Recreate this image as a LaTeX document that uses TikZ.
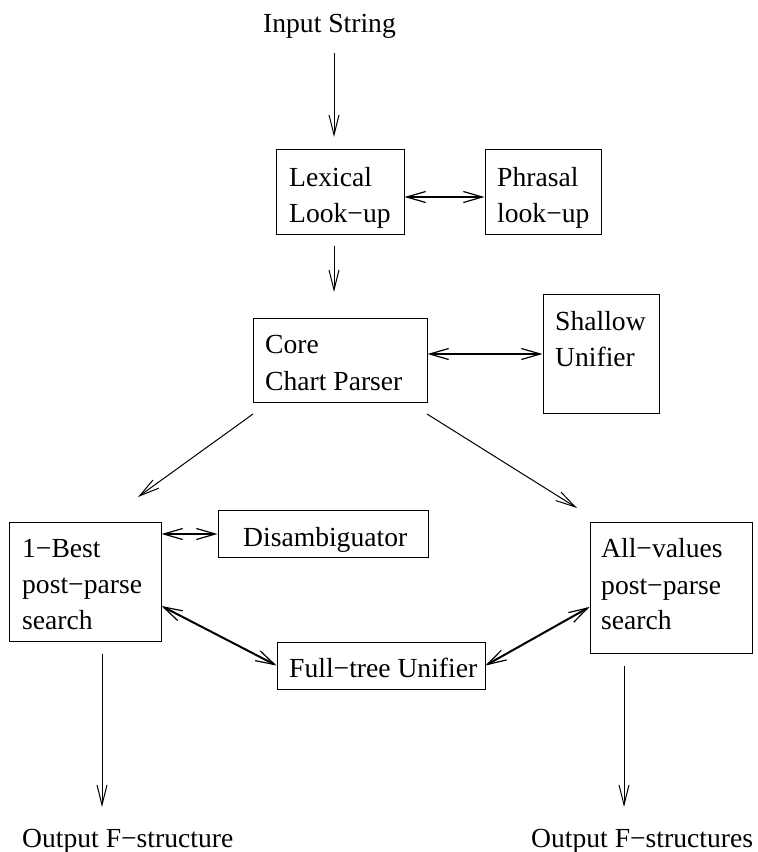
\documentclass[tikz,border=0pt]{standalone}
\usepackage{fontspec}
\setmainfont{Liberation Serif}
\usetikzlibrary{arrows.meta}
\begin{document}
\begin{tikzpicture}[x=1pt,y=-1pt,
  box/.style={draw, line width=1pt, rectangle, inner sep=0pt},
  txt/.style={anchor=base west, inner sep=0pt, font=\fontsize{27.6}{33}\selectfont},
  thin arrow/.style={line width=1pt, -{Straight Barb[length=20pt,width=10pt]}},
  both arrow/.style={line width=2pt, {Straight Barb[length=19pt,width=11pt,line width=1.2pt]}-{Straight Barb[length=19pt,width=11pt,line width=1.2pt]}}]
\useasboundingbox (0,0) rectangle (758,852);
% boxes
\node[box, minimum width=128pt, minimum height=85pt] (lex) at (340,191.5) {};
\node[box, minimum width=116pt, minimum height=85pt] (phr) at (543,191.5) {};
\node[box, minimum width=174pt, minimum height=84pt] (core) at (340,360) {};
\node[box, minimum width=116pt, minimum height=119pt] (shal) at (601,353.5) {};
\node[box, minimum width=210pt, minimum height=47pt] (dis) at (323,533.5) {};
\node[box, minimum width=152pt, minimum height=119pt] (best) at (85,581.5) {};
\node[box, minimum width=162pt, minimum height=131pt] (all) at (671,587.5) {};
\node[box, minimum width=208pt, minimum height=47pt] (full) at (381,665.5) {};
% texts
\node[txt] (input) at (263,32) {Input String};
\node[txt] (lex1) at (289,186) {Lexical};
\node[txt] (lex2) at (289,222) {Look−up};
\node[txt] (phr1) at (497,186) {Phrasal};
\node[txt] (phr2) at (497,222) {look−up};
\node[txt] (core1) at (265,353) {Core};
\node[txt] (core2) at (265,390) {Chart Parser};
\node[txt] (shal1) at (555,330) {Shallow};
\node[txt] (shal2) at (555,366) {Unifier};
\node[txt] (dist) at (243,546) {Disambiguator};
\node[txt] (best1) at (22,557) {1−Best};
\node[txt] (best2) at (22,593) {post−parse};
\node[txt] (best3) at (22,629) {search};
\node[txt] (all1) at (601,557) {All−values};
\node[txt] (all2) at (601,594) {post−parse};
\node[txt] (all3) at (601,629) {search};
\node[txt] (fullt) at (289,677) {Full−tree Unifier};
\node[txt] (out1) at (22,847) {Output F−structure};
\node[txt] (out2) at (531,847) {Output F−structures};
% free connector ends
\coordinate (inA) at (334,53);
\coordinate (inB) at (334,137);
\coordinate (lcA) at (334,246);
\coordinate (lcB) at (334,292);
\coordinate (cbA) at (253,414);
\coordinate (cbB) at (138,497);
\coordinate (caA) at (427,414);
\coordinate (caB) at (577,508);
\coordinate (o1A) at (102,654);
\coordinate (o1B) at (102,807);
\coordinate (o2A) at (624,666);
\coordinate (o2B) at (624,807);
% connectors
\draw[thin arrow] (inA) -- (inB);
\draw[thin arrow] (lcA) -- (lcB);
\draw[thin arrow] (cbA) -- (cbB);
\draw[thin arrow] (caA) -- (caB);
\draw[thin arrow] (o1A) -- (o1B);
\draw[thin arrow] (o2A) -- (o2B);
\draw[both arrow] (lex.east |- 0,197) -- (phr.west |- 0,197);
\draw[both arrow] (core.east |- 0,354) -- (shal.west |- 0,354);
\draw[both arrow] (best.east |- 0,534) -- (dis.west |- 0,534);
\draw[both arrow] (best.east |- 0,606) -- (full.west);
\draw[both arrow] (full.east) -- (all.west |- 0,607);
\end{tikzpicture}
\end{document}
